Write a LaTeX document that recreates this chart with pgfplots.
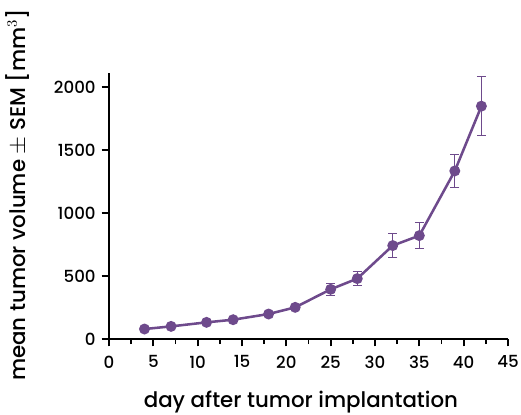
\documentclass[border=0pt]{standalone}
\usepackage{pgfplots}
\pgfplotsset{compat=1.18}
\usepackage{fontspec}
\setmainfont{Poppins}[UprightFont=* Medium]
\definecolor{tumor}{HTML}{6E4A8C}
\begin{document}
\begin{tikzpicture}
\begin{axis}[
  scale only axis,
  width=299.25pt, height=199.5pt,
  xmin=0, xmax=45, ymin=0, ymax=2110,
  axis lines=left,
  axis line style={line width=1.5pt, -},
  xtick={0,5,...,45},
  minor xtick={2.5,7.5,...,42.5},
  ytick={0,500,1000,1500,2000},
  tick align=outside,
  major tick length=5.5pt,
  minor tick length=3.8pt,
  every tick/.style={line width=1.3pt, black},
  tick label style={font=\fontsize{12.5}{15}\selectfont},
  xticklabel style={yshift=-3.5pt},
  yticklabel style={xshift=-1pt},
  /pgf/number format/assume math mode=true,
  /pgf/number format/1000 sep={},
  xlabel={day after tumor implantation},
  ylabel={mean tumor volume $\pm$ SEM [mm$^3$]},
  label style={font=\fontsize{16}{19}\selectfont},
  xlabel style={at={(axis description cs:0.481,-0.258)}, anchor=base},
  ylabel style={at={(axis description cs:-0.23,0.541)}, anchor=center},
  clip=false,
]
\addplot[color=tumor, line width=1.9pt, mark=*, mark size=3.1pt,
  error bars/.cd, y dir=both, y explicit,
  error bar style={line width=0.8pt, color=tumor},
  error mark options={rotate=90, mark size=3.4pt, line width=0.8pt, color=tumor}]
  table[x=x, y=y, y error=e] {
x y e
4 79 8
7 100 8
11 132 10
14 153 10
18 198 12
21 251 15
25 394 47
28 479 56
32 741 93
35 820 103
39 1333 134
42 1847 232
};
\coordinate (bl) at (axis description cs:-0.2732,-0.282);
\coordinate (tr) at (axis description cs:1.0326,1.2744);
\end{axis}
\pgfresetboundingbox
\path (bl) rectangle (tr);
\end{tikzpicture}
\end{document}
